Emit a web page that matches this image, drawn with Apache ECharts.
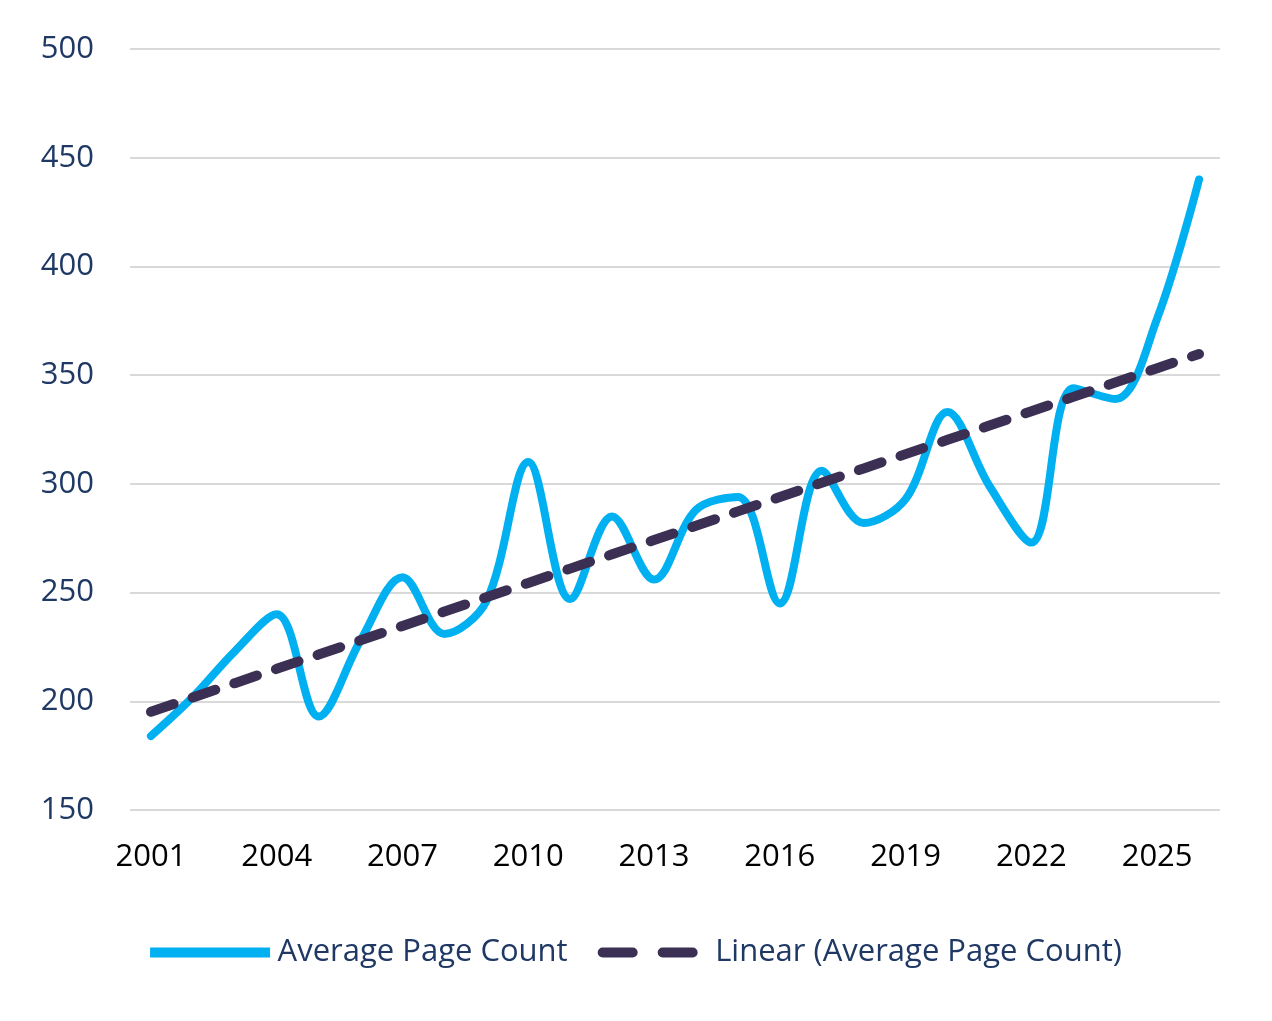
<!DOCTYPE html>
<html><head><meta charset="utf-8">
<script src="https://cdn.jsdelivr.net/npm/echarts@6/dist/echarts.min.js"></script>
<style>html,body{margin:0;padding:0;background:#fff}#c{width:1272px;height:1021px}</style>
</head><body><div id="c"></div>
<script>
const years = ['2001','2002','2003','2004','2005','2006','2007','2008','2009','2010','2011','2012','2013','2014','2015','2016','2017','2018','2019','2020','2021','2022','2023','2024','2025','2026'];
const avgPages = [184,202,223,240,193,228,257,231,246,310,247,285,256,288,294,245,306,282,293,333,299,273,344,339,376,440];
// least-squares trendline (as Excel's "Linear" trendline)
const n = avgPages.length;
let sx=0,sy=0,sxy=0,sxx=0;
avgPages.forEach((v,i)=>{sx+=i;sy+=v;sxy+=i*v;sxx+=i*i;});
const slope=(n*sxy-sx*sy)/(n*sxx-sx*sx), icpt=(sy-slope*sx)/n;
const trend = avgPages.map((v,i)=>+(icpt+slope*i).toFixed(2));
const font = '"Open Sans", sans-serif';
const chart = echarts.init(document.getElementById('c'));
chart.setOption({
  animation:false,
  grid:{left:130,right:52,top:49,bottom:211},
  legend:{bottom:48,left:'center',itemWidth:125,itemHeight:10,itemGap:30,
    textStyle:{fontSize:31,color:'#1F3864',fontFamily:font},
    data:[{name:'Average Page Count',icon:'path://M0,0h120v10h-120z',itemStyle:{color:'#00B0F0'}},
          {name:'Linear (Average Page Count)',icon:'path://M5,0h30a5,5 0 0 1 0,10h-30a5,5 0 0 1 0,-10z M65,0h30a5,5 0 0 1 0,10h-30a5,5 0 0 1 0,-10z',itemStyle:{color:'#3B3054'}}]},
  xAxis:{type:'category',data:years,boundaryGap:true,
    axisLine:{show:false},axisTick:{show:false},
    axisLabel:{interval:2,fontSize:31,color:'#000',fontFamily:font,margin:32}},
  yAxis:{type:'value',min:150,max:500,interval:50,
    axisLabel:{fontSize:31,color:'#1F3864',fontFamily:font,margin:36},
    splitLine:{lineStyle:{color:'#D9D9D9',width:2}}},
  series:[
    {name:'Average Page Count',type:'line',data:avgPages,smooth:0.35,showSymbol:false,symbol:'none',
     lineStyle:{color:'#00B0F0',width:8,cap:'round'},itemStyle:{color:'#00B0F0'}},
    {name:'Linear (Average Page Count)',type:'line',data:trend,showSymbol:false,symbol:'none',
     lineStyle:{color:'#3B3054',width:10,type:[24,20],cap:'round'},itemStyle:{color:'#3B3054'}}
  ]
});
</script></body></html>
